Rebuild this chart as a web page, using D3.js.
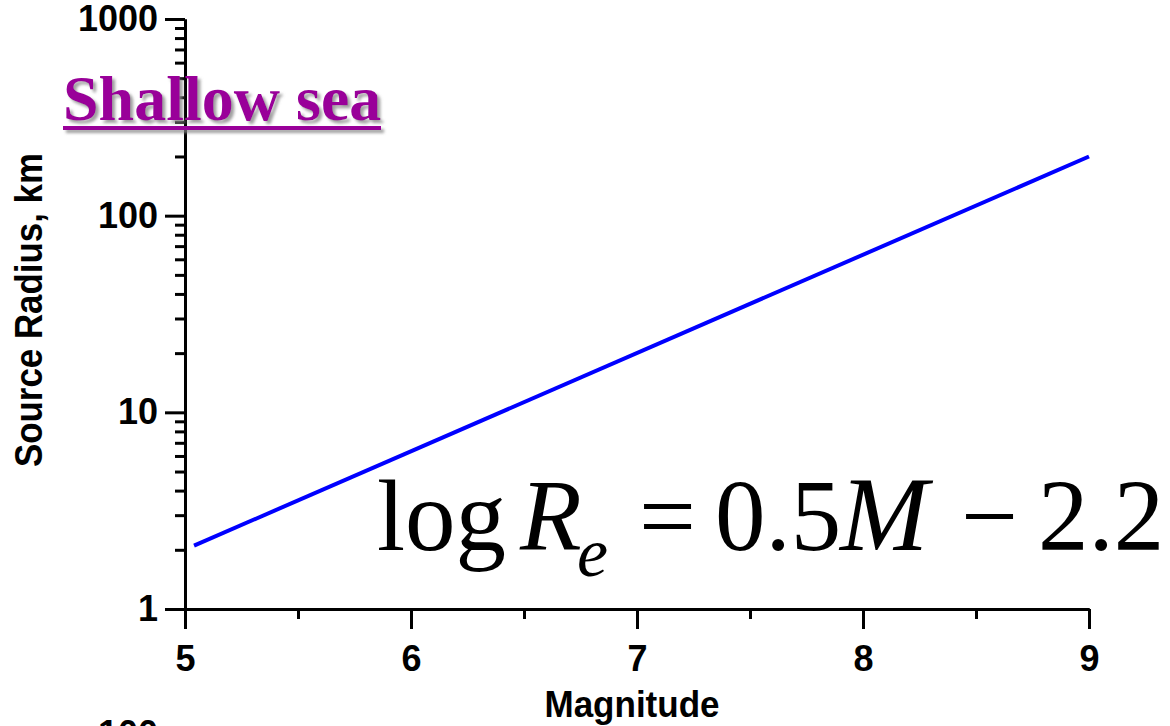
<!DOCTYPE html>
<html>
<head>
<meta charset="utf-8">
<script src="https://cdn.jsdelivr.net/npm/d3@7"></script>
<style>
  html, body { margin: 0; padding: 0; background: #fff; overflow: hidden; }
  svg { display: block; }
</style>
</head>
<body>
<svg id="chart" width="1170" height="726"></svg>
<script>
// line: log Re = 0.5M - 2.2
const magnitudes = [5.04, 9]
const radii = [2.1, 200]

const xTicks = [5, 6, 7, 8, 9]
const xMinorTicks = [5.5, 6.5, 7.5, 8.5]
const yTicks = [1, 10, 100, 1000]
const yMinorTicks = [2, 3, 4, 5, 6, 7, 8, 9, 20, 30, 40, 50, 60, 70, 80, 90, 200, 300, 400, 500, 600, 700, 800, 900]

const svg = d3.select('#chart')

const x = d3.scaleLinear().domain([5, 9]).range([185, 1089])
const y = d3.scaleLog().domain([1, 1000]).range([609, 19])

const sans = '"Liberation Sans", Arial, sans-serif'
const serif = '"Liberation Serif", "Times New Roman", serif'

// drop shadow for the title
const defs = svg.append('defs')
defs.append('filter').attr('id', 'shadow')
    .attr('x', '-5%').attr('y', '-20%').attr('width', '115%').attr('height', '150%')
    .append('feDropShadow')
    .attr('dx', 3).attr('dy', 3).attr('stdDeviation', 1.6)
    .attr('flood-color', '#888').attr('flood-opacity', 0.8)

const styleAxis = g => {
    g.selectAll('path.domain').attr('stroke', '#000').attr('stroke-width', 3)
    g.selectAll('.tick line').attr('stroke', '#000').attr('stroke-width', 3)
    g.selectAll('.tick text')
        .attr('fill', '#000')
        .style('font-family', sans)
        .style('font-weight', 'bold')
        .style('font-size', '36px')
}

// minor ticks first, majors on top
svg.append('g')
    .attr('transform', `translate(0,${y(1)})`)
    .call(d3.axisBottom(x).tickValues(xMinorTicks).tickSize(10).tickSizeOuter(0).tickFormat(''))
    .call(styleAxis)
svg.append('g')
    .attr('transform', `translate(${x(5)},0)`)
    .call(d3.axisLeft(y).tickValues(yMinorTicks).tickSize(10).tickSizeOuter(0).tickFormat(''))
    .call(styleAxis)

svg.append('g')
    .attr('transform', `translate(0,${y(1)})`)
    .call(d3.axisBottom(x).tickValues(xTicks).tickSize(20).tickSizeOuter(0).tickPadding(16).tickFormat(d3.format('d')))
    .call(styleAxis)
svg.append('g')
    .attr('transform', `translate(${x(5)},0)`)
    .call(d3.axisLeft(y).tickValues(yTicks).tickSize(20).tickSizeOuter(0).tickPadding(7).tickFormat(d3.format('d')))
    .call(styleAxis)

// axis titles
svg.append('text')
    .attr('x', 632).attr('y', 717)
    .attr('text-anchor', 'middle')
    .attr('textLength', 175).attr('lengthAdjust', 'spacingAndGlyphs')
    .style('font-family', sans).style('font-weight', 'bold').style('font-size', '37px')
    .text('Magnitude')

svg.append('text')
    .attr('transform', 'translate(42,310) rotate(-90)')
    .attr('text-anchor', 'middle')
    .attr('textLength', 314).attr('lengthAdjust', 'spacingAndGlyphs')
    .style('font-family', sans).style('font-weight', 'bold').style('font-size', '39px')
    .text('Source Radius, km')

// the fitted line
const pts = magnitudes.map((m, i) => [m, radii[i]])
svg.append('path')
    .datum(pts)
    .attr('fill', 'none')
    .attr('stroke', '#0000ff')
    .attr('stroke-width', 4)
    .attr('d', d3.line().x(d => x(d[0])).y(d => y(d[1])))

// title
const title = svg.append('g').attr('filter', 'url(#shadow)')
title.append('text')
    .attr('x', 63).attr('y', 120)
    .attr('fill', '#990099')
    .style('font-family', serif).style('font-weight', 'bold').style('font-size', '64px')
    .text('Shallow sea')
title.append('rect')
    .attr('x', 63).attr('y', 126).attr('width', 318).attr('height', 4)
    .attr('fill', '#990099')

// equation
const eq = svg.append('g').style('font-family', serif).attr('fill', '#000')
eq.append('text').attr('x', 377).attr('y', 550).style('font-size', '101px').text('log')
eq.append('text').attr('x', 520).attr('y', 550).style('font-size', '101px').style('font-style', 'italic').text('R')
eq.append('text').attr('x', 577).attr('y', 576).style('font-size', '70px').style('font-style', 'italic').text('e')
eq.append('text').attr('x', 639).attr('y', 550).style('font-size', '101px').text('=')
eq.append('text').attr('x', 715).attr('y', 550).style('font-size', '101px').text('0.5')
eq.append('text').attr('x', 840).attr('y', 550).style('font-size', '106px').style('font-style', 'italic').text('M')
eq.append('text').attr('x', 961).attr('y', 550).style('font-size', '101px').text('\u2212')
eq.append('text').attr('x', 1038).attr('y', 550).style('font-size', '101px').text('2.2')

// label of the next chart, cut off by the frame
svg.append('text')
    .attr('x', 158).attr('y', 746)
    .attr('text-anchor', 'end')
    .style('font-family', sans).style('font-weight', 'bold').style('font-size', '36px')
    .text('100')
</script>
</body>
</html>
